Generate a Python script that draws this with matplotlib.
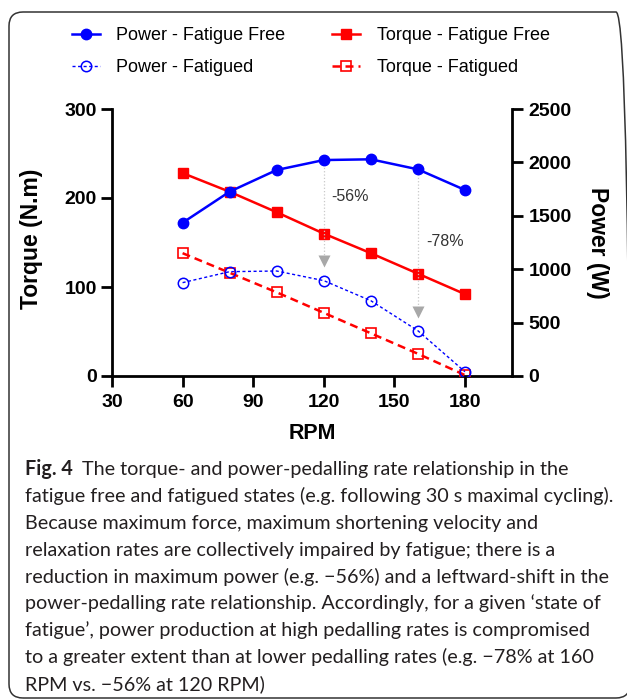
import numpy as np
import matplotlib
matplotlib.use("Agg")
import matplotlib.pyplot as plt
from matplotlib.lines import Line2D
from matplotlib.patches import FancyBboxPatch
from matplotlib.transforms import IdentityTransform

plt.rcParams['font.family'] = ['Liberation Sans', 'DejaVu Sans']

# data
rpm = [60, 80, 100, 120, 140, 160, 180]
torque_free = [228, 207, 184, 160, 138, 115, 92]
torque_fatigued = [138, 116, 94, 71, 48, 25, 1]
power_free = [1435, 1726, 1929, 2022, 2029, 1935, 1742]
power_fatigued = [874, 977, 983, 893, 705, 424, 40]

x_ticks = [30, 60, 90, 120, 150, 180]
torque_ticks = [0, 100, 200, 300]
power_ticks = [0, 500, 1000, 1500, 2000, 2500]

# drop arrows: rpm, start (fatigue free power), arrow head centre, label
arrow_rpm = [120, 160]
arrow_start = [1985, 1895]
arrow_head = [1080, 600]
drop_labels = ['-56%', '-78%']
drop_label_x = [123, 163.5]
drop_label_y = [1680, 1260]

caption = [
    "fatigue free and fatigued states (e.g. following 30 s maximal cycling).",
    "Because maximum force, maximum shortening velocity and",
    "relaxation rates are collectively impaired by fatigue; there is a",
    "reduction in maximum power (e.g. \u221256%) and a leftward-shift in the",
    "power-pedalling rate relationship. Accordingly, for a given \u2018state of",
    "fatigue\u2019, power production at high pedalling rates is compromised",
    "to a greater extent than at lower pedalling rates (e.g. \u221278% at 160",
    "RPM vs. \u221256% at 120 RPM)",
]
caption_first = "The torque- and power-pedalling rate relationship in the"

W, H = 627, 699
fig = plt.figure(figsize=(W / 100, H / 100), dpi=100)

# rounded frame around the whole figure
frame = FancyBboxPatch((9, 1), 621, 686, boxstyle='round,pad=0,rounding_size=14',
                       transform=IdentityTransform(), fill=False, lw=1.1, ec='#333333')
fig.patches.append(frame)

ax = fig.add_axes([112 / W, 1 - 376 / H, 400 / W, 267 / H])
ax2 = ax.twinx()

blue = '#0000FF'
red = '#FF0000'

ax.plot(rpm, torque_free, color=red, lw=1.8, marker='s', ms=7.5, zorder=3)
ax.plot(rpm, torque_fatigued, color=red, lw=1.8, dashes=(3.2, 2.0), marker='s', ms=7.5,
        mfc='none', mec=red, mew=1.2, zorder=3)
ax2.plot(rpm, power_free, color=blue, lw=1.8, marker='o', ms=7.5, zorder=3)
ax2.plot(rpm, power_fatigued, color=blue, lw=1.0, dashes=(2.2, 1.8), marker='o', ms=7.5,
         mfc='none', mec=blue, mew=1.1, zorder=3)

for xr, y0, yh, lab, lx, ly in zip(arrow_rpm, arrow_start, arrow_head, drop_labels,
                                   drop_label_x, drop_label_y):
    ax2.plot([xr, xr], [y0, yh + 40], color='#C8C8C8', lw=0.9, ls=':', zorder=2)
    ax2.plot([xr], [yh], marker='v', ms=8.5, color='#A8A8A8', mec='none', zorder=2)
    ax2.text(lx, ly, lab, fontsize=11.5, color='#333333', va='center', ha='left')

ax.set_xlim(30, 200)
ax.set_ylim(0, 300)
ax2.set_ylim(0, 2500)
ax.set_xticks(x_ticks)
ax.set_yticks(torque_ticks)
ax2.set_yticks(power_ticks)

for a in (ax, ax2):
    a.spines['top'].set_visible(False)
    for s in a.spines.values():
        s.set_linewidth(2.0)
    a.tick_params(width=2.0, length=8, labelsize=14, pad=3)
    for lbl in a.get_xticklabels() + a.get_yticklabels():
        lbl.set_fontweight('bold')
ax.spines['right'].set_visible(False)
ax2.spines['left'].set_visible(False)
ax2.spines['bottom'].set_visible(False)
ax.tick_params(axis='x', pad=5)
ax2.tick_params(axis='y', pad=4)

ax.set_ylabel('Torque (N.m)', fontsize=16.5, fontweight='bold')
ax.yaxis.set_label_coords(-0.1725, 0.513)
ax2.set_ylabel('Power (W)', fontsize=16.5, fontweight='bold', rotation=270, va='center')
ax2.yaxis.set_label_coords(1.2125, 0.5)
ax.set_xlabel('RPM', fontsize=15.5, fontweight='bold', va='center')
ax.xaxis.set_label_coords(0.5, -0.2135)

handles = [
    Line2D([], [], color=blue, lw=1.8, marker='o', ms=7.5),
    Line2D([], [], color=blue, lw=1.0, dashes=(2.2, 1.8), marker='o', ms=7.5,
           mfc='none', mec=blue, mew=1.1),
    Line2D([], [], color=red, lw=1.8, marker='s', ms=7.5),
    Line2D([], [], color=red, lw=1.8, dashes=(3.2, 2.0), marker='s', ms=7.5,
           mfc='none', mec=red, mew=1.2),
]
labels = ['Power - Fatigue Free', 'Power - Fatigued',
          'Torque - Fatigue Free', 'Torque - Fatigued']
fig.legend(handles, labels, ncol=2, loc='upper left', bbox_to_anchor=(72 / W, 1 - 27 / H),
           frameon=False, fontsize=13, handlelength=1.55, handletextpad=0.9,
           columnspacing=2.6, labelspacing=0.85, borderaxespad=0, borderpad=0)

# caption
cap_font = ['Lato', 'DejaVu Sans']
cap_color = '#231F20'
cap_size = 14.2
base0 = 475
step = 26.9
fig.text(25 / W, 1 - base0 / H, 'Fig. 4', family=cap_font, fontsize=cap_size,
         fontweight='bold', color=cap_color, va='baseline')
fig.text(82 / W, 1 - base0 / H, caption_first, family=cap_font, fontsize=cap_size,
         color=cap_color, va='baseline')
for i, line in enumerate(caption):
    fig.text(25 / W, 1 - (base0 + step * (i + 1)) / H, line, family=cap_font,
             fontsize=cap_size, color=cap_color, va='baseline')

fig.savefig('out.png', dpi=100)
